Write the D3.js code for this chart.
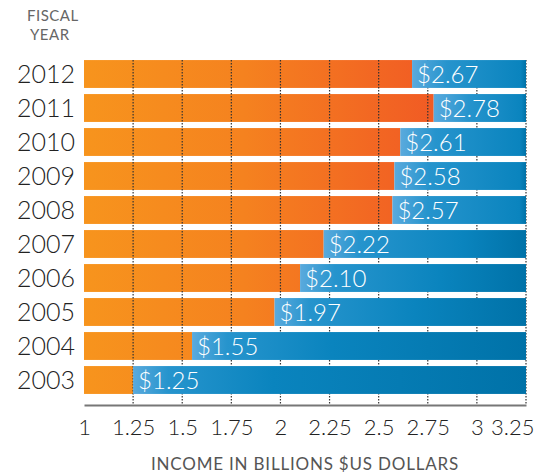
<!DOCTYPE html>
<html>
<head>
<meta charset="utf-8">
<script src="https://cdn.jsdelivr.net/npm/d3@7"></script>
<style>
  body { margin: 0; background: #fff; }
  text { font-family: Lato, "Open Sans", sans-serif; }
</style>
</head>
<body>
<svg></svg>
<script>
let years = ["2012", "2011", "2010", "2009", "2008", "2007", "2006", "2005", "2004", "2003"];
let incomes = [2.67, 2.78, 2.61, 2.58, 2.57, 2.22, 2.10, 1.97, 1.55, 1.25];
let labels = ["$2.67", "$2.78", "$2.61", "$2.58", "$2.57", "$2.22", "$2.10", "$1.97", "$1.55", "$1.25"];
let ticks = [1, 1.25, 1.5, 1.75, 2, 2.25, 2.5, 2.75, 3, 3.25];

let width = 539;
let height = 474;
let svg = d3.select("svg").attr("width", width).attr("height", height);

let xScale = d3.scaleLinear().domain([1, 3.25]).range([84, 526]);
let yScale = d3.scaleBand().domain(years).range([57, 397]).paddingInner(0.18).paddingOuter(0.09);

let defs = svg.append("defs");
let orange = defs.append("linearGradient")
  .attr("id", "orange")
  .attr("gradientUnits", "userSpaceOnUse")
  .attr("x1", xScale(1)).attr("x2", xScale(2.8))
  .attr("y1", 0).attr("y2", 0);
orange.append("stop").attr("offset", 0).attr("stop-color", "#f7941d");
orange.append("stop").attr("offset", 0.45).attr("stop-color", "#f5821f");
orange.append("stop").attr("offset", 1).attr("stop-color", "#f15a24");

// blue gradient per bar, light edge right after the orange part
incomes.forEach((v, i) => {
  let x0 = xScale(v);
  let w = xScale(3.25) - x0;
  let g = defs.append("linearGradient")
    .attr("id", "blue" + i)
    .attr("gradientUnits", "userSpaceOnUse")
    .attr("x1", x0).attr("x2", xScale(3.25))
    .attr("y1", 0).attr("y2", 0);
  g.append("stop").attr("offset", 0).attr("stop-color", "#5aaadd");
  g.append("stop").attr("offset", Math.min(0.9, 35 / w)).attr("stop-color", "#2694cd");
  g.append("stop").attr("offset", Math.min(0.95, 140 / w)).attr("stop-color", "#0a84be");
  g.append("stop").attr("offset", 1).attr("stop-color", "#0072a8");
});

// orange part of each bar
svg.selectAll("rect.orange")
  .data(years)
  .enter()
  .append("rect")
  .attr("class", "orange")
  .attr("x", xScale(1))
  .attr("y", (d) => yScale(d))
  .attr("width", (d, i) => xScale(incomes[i]) - xScale(1))
  .attr("height", yScale.bandwidth())
  .attr("fill", "url(#orange)");

// dotted grid lines
svg.append("g")
  .selectAll("line")
  .data(ticks.slice(1))
  .enter()
  .append("line")
  .attr("x1", (d) => xScale(d))
  .attr("x2", (d) => xScale(d))
  .attr("y1", yScale(years[0]))
  .attr("y2", 405)
  .attr("stroke", "#333")
  .attr("stroke-width", 1.2)
  .attr("stroke-dasharray", "1.5,1.5");

// blue remainder
svg.selectAll("rect.blue")
  .data(years)
  .enter()
  .append("rect")
  .attr("class", "blue")
  .attr("x", (d, i) => xScale(incomes[i]))
  .attr("y", (d) => yScale(d))
  .attr("width", (d, i) => xScale(3.25) - xScale(incomes[i]))
  .attr("height", yScale.bandwidth())
  .attr("fill", (d, i) => "url(#blue" + i + ")");

// value labels
svg.selectAll("text.value")
  .data(years)
  .enter()
  .append("text")
  .attr("class", "value")
  .attr("x", (d, i) => xScale(incomes[i]) + 5)
  .attr("y", (d) => yScale(d) + yScale.bandwidth() / 2 + 9)
  .attr("fill", "#fff")
  .attr("font-size", 24)
  .attr("font-weight", 300)
  .text((d, i) => labels[i]);

// year labels
let yAxis = d3.axisLeft(yScale).tickSize(0).tickPadding(9);
let yG = svg.append("g")
  .attr("transform", `translate(${xScale(1)}, 0)`)
  .call(yAxis);
yG.select(".domain").remove();
yG.selectAll("text")
  .attr("font-size", 25)
  .attr("font-family", "Lato, sans-serif")
  .attr("font-weight", 300)
  .attr("fill", "#222")
  .attr("dy", "0.36em");

// x axis
let xAxis = d3.axisBottom(xScale).tickValues(ticks).tickSize(0).tickPadding(14)
  .tickFormat((d) => d3.format("")(d));
let xG = svg.append("g")
  .attr("transform", "translate(0, 405)")
  .call(xAxis);
xG.select(".domain").attr("stroke", "#777").attr("stroke-width", 2);
xG.selectAll("text")
  .attr("font-size", 22)
  .attr("font-family", "Lato, sans-serif")
  .attr("font-weight", 300)
  .attr("fill", "#222");
// keep the last label inside the frame
xG.selectAll(".tick")
  .filter((d) => d === 3.25)
  .select("text")
  .attr("text-anchor", "end")
  .attr("x", 8);

svg.append("text")
  .attr("x", 27).attr("y", 21)
  .attr("font-size", 15)
  .attr("letter-spacing", 0.5)
  .attr("fill", "#666")
  .text("FISCAL");
svg.append("text")
  .attr("x", 30).attr("y", 40)
  .attr("font-size", 15)
  .attr("letter-spacing", 0.5)
  .attr("fill", "#666")
  .text("YEAR");

svg.append("text")
  .attr("x", 305).attr("y", 470)
  .attr("text-anchor", "middle")
  .attr("font-size", 17)
  .attr("letter-spacing", 0.8)
  .attr("fill", "#555")
  .text("INCOME IN BILLIONS $US DOLLARS");
</script>
</body>
</html>
